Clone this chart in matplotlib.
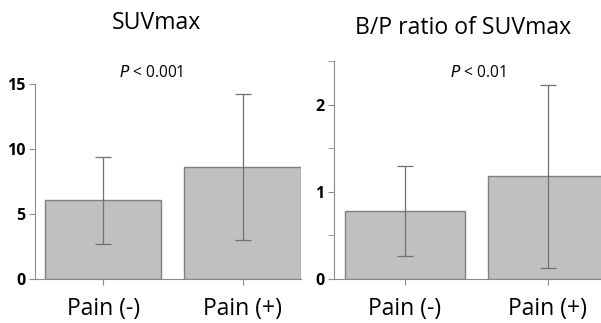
import numpy as np
import matplotlib.pyplot as plt

# Data
groups = ["Pain (-)", "Pain (+)"]
suv_mean = [6.05, 8.6]
suv_sd = [3.35, 5.6]
ratio_mean = [0.78, 1.18]
ratio_sd = [0.52, 1.05]
titles = ["SUVmax", "B/P ratio of SUVmax"]
p_texts = ["< 0.001", "< 0.01"]

BAR = "#c0c0c0"
EDGE = "#808080"
AXIS = "#8a8a8a"

plt.rcParams['font.family'] = ['Open Sans', 'DejaVu Sans']

fig = plt.figure(figsize=(6.01, 3.23), dpi=100)
W, H = 601, 323


def px_axes(x0, x1, y0, y1):
    # y0/y1 measured from top of image in pixels
    return fig.add_axes([x0 / W, 1 - y1 / H, (x1 - x0) / W, (y1 - y0) / H])


ax1 = px_axes(35, 301, 83.7, 279)
ax2 = px_axes(334, 601, 61, 279)


def draw(ax, means, sds, xlim, ylim, yticks, ylabels, minor, title, ptxt, ptx, pty, tx, ty):
    x = np.arange(len(means))
    ax.bar(x, means, width=0.835, color=BAR, edgecolor=EDGE, linewidth=1.0, zorder=2)
    ax.errorbar(x, means, yerr=sds, fmt='none', ecolor="#707070",
                elinewidth=0.9, capsize=6, capthick=0.9, zorder=3)
    ax.set_xlim(*xlim)
    ax.set_ylim(*ylim)
    for s in ["top", "right"]:
        ax.spines[s].set_visible(False)
    ax.spines["left"].set_color(AXIS)
    ax.spines["bottom"].set_color(AXIS)
    ax.spines["left"].set_bounds(ylim[0], ylim[1])
    ax.set_yticks(yticks)
    ax.set_yticklabels(ylabels, fontweight='bold', fontsize=11.5)
    if minor:
        ax.set_yticks(minor, minor=True)
        ax.tick_params(axis='y', which='minor', length=4, color=AXIS)
    ax.tick_params(axis='y', which='major', length=4, color=AXIS, pad=3)
    ax.set_xticks(x)
    ax.set_xticklabels(groups, fontsize=16.5)
    ax.tick_params(axis='x', length=4, color=AXIS, direction='out', pad=9)
    fig.text(tx / W, 1 - ty / H, title, fontsize=16.6, ha='center', va='center')
    fig.text(ptx / W, 1 - pty / H, "$\\it{P}$ " + ptxt, fontsize=11.2,
             ha='center', va='center')


draw(ax1, suv_mean, suv_sd, (-0.49, 1.42), (0, 15), [0, 5, 10, 15],
     ["0", "5", "10", "15"], None, titles[0], p_texts[0], 151, 73, 156, 23)
draw(ax2, ratio_mean, ratio_sd, (-0.4975, 1.373), (0, 2.5), [0, 1, 2],
     ["0", "1", "2"], [0.5, 1.5, 2.5], titles[1], p_texts[1], 478, 73, 463, 28)

fig.savefig("out.png", dpi=100)
